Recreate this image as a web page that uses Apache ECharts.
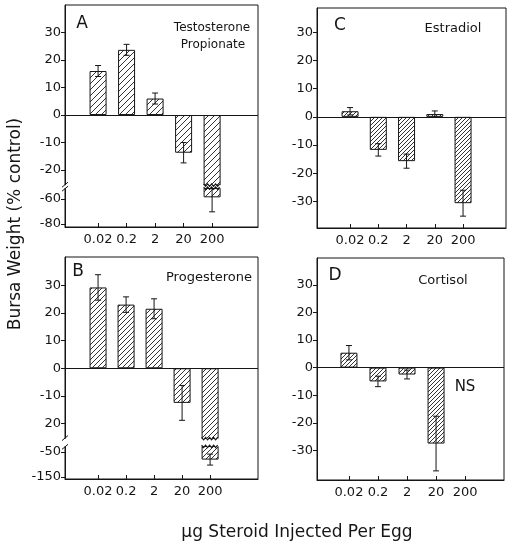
<!DOCTYPE html>
<html>
<head>
<meta charset="utf-8">
<script src="https://cdn.jsdelivr.net/npm/echarts@6/dist/echarts.min.js"></script>
<style>
  html, body { margin: 0; padding: 0; background: #fff; }
  #main { width: 508px; height: 546px; }
</style>
</head>
<body>
<div id="main"></div>
<script>
// doses (ug per egg)
const doses = ['0.02', '0.2', '2', '20', '200'];

// bursa weight, % of control, with error
const testosterone = [16, 23.7, 6, -13.7, -58.7];
const testosteroneErr = [2, 2, 2, 3.7, 11.6];
const estradiol = [2, -11.7, -15.7, 1, -30.6];
const estradiolErr = [1.3, 2.2, 2.5, 1.1, 4.6];
const progesterone = [29.2, 23, 21.5, -12.5, -81];
const progesteroneErr = [4.6, 2.8, 3.6, 6.3, 22];
const cortisol = [5.4, -5, -2.5, -27.5, null];
const cortisolErr = [2.6, 1.9, 1.6, 9.9, null];

// y tick values and their printed labels
const ticksA = [30, 20, 10, 0, -10, -20, -60, -80];
const labelsA = ['30', '20', '10', '0', '-10', '-20', '-60', '-80'];
const ticksB = [30, 20, 10, 0, -10, -20, -50, -150];
const labelsB = ['30', '20', '10', '0', '-10', '20', '-50', '-150'];
const ticksCD = [30, 20, 10, 0, -10, -20, -30];
const labelsCD = ['30', '20', '10', '0', '-10', '-20', '-30'];

const FONT = '"DejaVu Sans", sans-serif';
const INK = '#151515';

// broken axis: below the cut the scale is squeezed
function squeeze(cut, ref, refDisp, k) {
  return v => v >= cut ? v : refDisp + (v - ref) * k;
}
const same = v => v;

function hatch(step, color) {
  const c = document.createElement('canvas');
  c.width = c.height = step;
  const g = c.getContext('2d');
  g.strokeStyle = color;
  g.lineWidth = 1;
  g.beginPath();
  g.moveTo(0, step); g.lineTo(step, 0);
  g.moveTo(-1, 1); g.lineTo(1, -1);
  g.moveTo(step - 1, step + 1); g.lineTo(step + 1, step - 1);
  g.stroke();
  return c;
}

const panels = [
  { grid: { left: 65, top: 5, width: 193, height: 222 }, xMin: -1.16, xMax: 5.61, yMin: -40.7, yMax: 40,
    vals: testosterone, errs: testosteroneErr, ticks: ticksA, labels: labelsA,
    map: squeeze(-25, -60, -30.5, 0.455), gap: [-25.5, -26.6], step: 6 },
  { grid: { left: 317, top: 8, width: 189, height: 220 }, xMin: -1.17, xMax: 5.52, yMin: -39.4, yMax: 38.6,
    vals: estradiol, errs: estradiolErr, ticks: ticksCD, labels: labelsCD,
    map: same, gap: null, step: 4 },
  { grid: { left: 65, top: 257, width: 193, height: 222 }, xMin: -1.18, xMax: 5.71, yMin: -40, yMax: 40.2,
    vals: progesterone, errs: progesteroneErr, ticks: ticksB, labels: labelsB,
    map: squeeze(-25, -50, -30.2, 0.09), gap: [-25.4, -28.2], step: 5 },
  { grid: { left: 317, top: 258, width: 187, height: 222 }, xMin: -1.1, xMax: 5.34, yMin: -40.7, yMax: 39.7,
    vals: cortisol, errs: cortisolErr, ticks: ticksCD, labels: labelsCD,
    map: same, gap: null, step: 4 }
];

const grid = [], xAxis = [], yAxis = [], series = [];

panels.forEach((p, n) => {
  grid.push(Object.assign({ show: true, borderColor: INK, borderWidth: 1, backgroundColor: 'transparent' }, p.grid));
  const idx = doses.map((d, i) => i);
  xAxis.push({
    type: 'value', gridIndex: n, min: p.xMin, max: p.xMax,
    axisLine: { show: true, onZero: false, lineStyle: { color: INK } },
    axisTick: { show: true, inside: true, length: 4, customValues: idx, lineStyle: { color: INK } },
    axisLabel: { customValues: idx, formatter: v => doses[Math.round(v)], color: INK, fontFamily: FONT, fontSize: 13, margin: 6 },
    splitLine: { show: false }
  });
  const disp = p.ticks.map(p.map);
  yAxis.push({
    type: 'value', gridIndex: n, min: p.yMin, max: p.yMax,
    axisLine: { show: true, onZero: false, lineStyle: { color: INK } },
    axisTick: { show: true, length: 4, customValues: disp, lineStyle: { color: INK } },
    axisLabel: {
      customValues: disp, color: INK, fontFamily: FONT, fontSize: 13, margin: 4,
      formatter: v => { const k = disp.findIndex(d => Math.abs(d - v) < 1e-6); return k >= 0 ? p.labels[k] : ''; }
    },
    splitLine: { show: false }
  });

  const barData = [];
  const errData = [];
  p.vals.forEach((v, i) => {
    if (v === null) return;
    barData.push([i, p.map(v)]);
    errData.push([i, v, p.errs[i]]);
  });

  series.push({
    type: 'bar', xAxisIndex: n, yAxisIndex: n, barWidth: 17,
    data: barData,
    itemStyle: { color: { image: hatch(p.step, '#333'), repeat: 'repeat' }, borderColor: INK, borderWidth: 1 },
    markLine: {
      silent: true, symbol: 'none', label: { show: false },
      lineStyle: { color: INK, type: 'solid', width: 1 },
      data: [{ yAxis: 0 }]
    },
    animation: false
  });

  series.push({
    type: 'custom', xAxisIndex: n, yAxisIndex: n, z: 3,
    data: errData,
    renderItem: (params, api) => {
      const i = api.value(0), v = api.value(1), e = api.value(2);
      let hi = p.map(v + e);
      const lo = p.map(v - e);
      if (p.gap && p.map(v) < p.gap[1] && hi > p.gap[1]) hi = p.gap[1];
      const a = api.coord([i, hi]), b = api.coord([i, lo]);
      const st = { stroke: INK, lineWidth: 1 };
      return { type: 'group', children: [
        { type: 'line', shape: { x1: a[0], y1: a[1], x2: b[0], y2: b[1] }, style: st },
        { type: 'line', shape: { x1: a[0] - 3, y1: a[1], x2: a[0] + 3, y2: a[1] }, style: st },
        { type: 'line', shape: { x1: b[0] - 3, y1: b[1], x2: b[0] + 3, y2: b[1] }, style: st }
      ] };
    },
    animation: false
  });

  if (p.gap) {
    series.push({
      type: 'custom', xAxisIndex: n, yAxisIndex: n, z: 5,
      data: [[4]],
      renderItem: (params, api) => {
        const i = api.value(0);
        const t = api.coord([i, p.gap[0]]), b = api.coord([i, p.gap[1]]);
        const cs = params.coordSys;
        const hw = 9;
        const zig = y => {
          const pts = [];
          for (let x = t[0] - hw + 0.5, k = 0; x <= t[0] + hw; x += 2, k++) pts.push([x, y + (k % 2 ? 1.2 : -1.2)]);
          return pts;
        };
        const st = { stroke: INK, lineWidth: 1.2, fill: null };
        return { type: 'group', children: [
          { type: 'rect', shape: { x: t[0] - hw - 1, y: t[1], width: 2 * hw + 2, height: b[1] - t[1] }, style: { fill: '#fff' } },
          { type: 'polyline', shape: { points: zig(t[1]) }, style: st },
          { type: 'polyline', shape: { points: zig(b[1]) }, style: st },
          { type: 'rect', shape: { x: cs.x - 2, y: t[1], width: 4, height: b[1] - t[1] }, style: { fill: '#fff' } },
          { type: 'line', shape: { x1: cs.x - 3, y1: t[1] + 2, x2: cs.x + 3, y2: t[1] - 3 }, style: { stroke: INK, lineWidth: 1 } },
          { type: 'line', shape: { x1: cs.x - 3, y1: b[1] + 3, x2: cs.x + 3, y2: b[1] - 2 }, style: { stroke: INK, lineWidth: 1 } }
        ] };
      },
      animation: false
    });
  }
});

const notes = [
  { text: 'A', x: 82, y: 24, size: 17 },
  { text: 'Testosterone', x: 212, y: 28, size: 12 },
  { text: 'Propionate', x: 213, y: 45, size: 12 },
  { text: 'C', x: 340, y: 26, size: 17 },
  { text: 'Estradiol', x: 453, y: 29, size: 13 },
  { text: 'B', x: 78, y: 272, size: 17 },
  { text: 'Progesterone', x: 209, y: 278, size: 13 },
  { text: 'D', x: 335, y: 276, size: 17 },
  { text: 'Cortisol', x: 443, y: 281, size: 13 },
  { text: 'NS', x: 465, y: 387, size: 15 }
];

const graphic = notes.map(t => ({
  type: 'text', x: t.x, y: t.y, z: 10,
  style: { text: t.text, fill: INK, font: t.size + 'px ' + FONT, textAlign: 'center', textVerticalAlign: 'middle', align: 'center', verticalAlign: 'middle' }
}));
graphic.push({
  type: 'text', x: 16, y: 224, rotation: Math.PI / 2, z: 10,
  style: { text: 'Bursa Weight (% control)', fill: INK, font: '17px ' + FONT, textAlign: 'center', textVerticalAlign: 'middle', align: 'center', verticalAlign: 'middle' }
});
graphic.push({
  type: 'text', x: 297, y: 533, z: 10,
  style: { text: '\u00b5g Steroid Injected Per Egg', fill: INK, font: '17px ' + FONT, textAlign: 'center', textVerticalAlign: 'middle', align: 'center', verticalAlign: 'middle' }
});

const chart = echarts.init(document.getElementById('main'));
chart.setOption({
  animation: false,
  backgroundColor: '#fff',
  grid: grid,
  xAxis: xAxis,
  yAxis: yAxis,
  series: series,
  graphic: graphic
});
</script>
</body>
</html>
